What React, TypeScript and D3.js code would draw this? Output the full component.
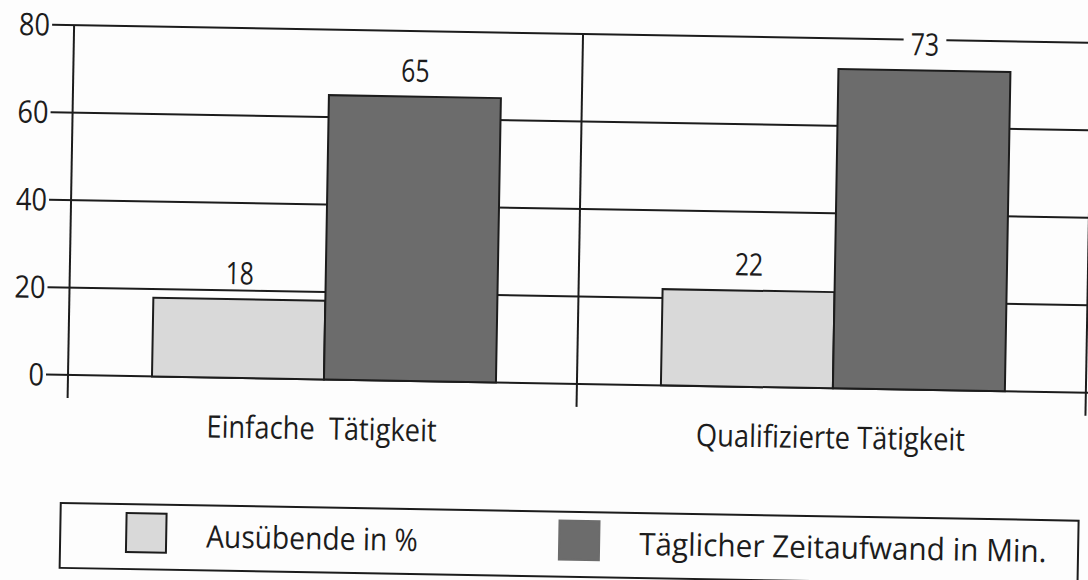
import React, { useEffect, useRef } from 'react';
import * as d3 from 'd3';

const categories = ['Einfache  Tätigkeit', 'Qualifizierte Tätigkeit'];
const seriesNames = ['Ausübende in %', 'Täglicher Zeitaufwand in Min.'];
const ausuebende = [18, 22];
const zeitaufwand = [65, 73];
const yTicks = [0, 20, 40, 60, 80];

const colors = ['#d9d9d9', '#6c6c6c'];
const ink = '#1c1c1c';
const font = "'Open Sans', 'Noto Sans', sans-serif";

type Sel = d3.Selection<SVGGElement, unknown, null, undefined>;

// the print uses a condensed face, so squeeze the glyphs horizontally
function label(parent: Sel, x: number, y: number, txt: string, anchor: string, size: number, sx: number) {
  const g = parent.append('g').attr('transform', `translate(${x},${y}) scale(${sx},1)`);
  g.append('text')
    .attr('text-anchor', anchor)
    .attr('font-family', font)
    .attr('font-size', size)
    .attr('fill', ink)
    .style('white-space', 'pre')
    .text(txt);
  return g;
}

export default function App() {
  const ref = useRef<SVGSVGElement | null>(null);

  useEffect(() => {
    const svg = d3.select(ref.current);
    svg.selectAll('*').remove();

    const width = 1088;
    const height = 580;
    svg.attr('width', width).attr('height', height);
    svg.append('rect').attr('width', width).attr('height', height).attr('fill', '#fdfdfd');

    // the scan is tilted by about a degree; origin sits on the zero line of the left axis
    const g = svg.append('g').attr('transform', 'translate(68,375) rotate(1)') as unknown as Sel;

    const y = d3.scaleLinear().domain([0, 80]).range([0, -350]);
    const x0 = d3.scaleBand<string>().domain(categories).range([0, 1018]);
    const x1 = d3.scaleBand<string>().domain(seriesNames).range([84, 428]);

    const rows = categories.map((c, i) => ({ cat: c, values: [ausuebende[i], zeitaufwand[i]] }));

    // gridlines with tick stubs
    g.selectAll('line.grid')
      .data(yTicks)
      .enter()
      .append('line')
      .attr('x1', -22)
      .attr('x2', 1060)
      .attr('y1', d => y(d))
      .attr('y2', d => y(d))
      .attr('stroke', ink)
      .attr('stroke-width', 2);

    yTicks.forEach(t => {
      label(g, -24, y(t) + 11, String(t), 'end', 31, 0.88);
    });

    // vertical separators
    const seps = categories.map(c => x0(c) as number).concat([x0.range()[1]]);
    g.selectAll('line.sep')
      .data(seps)
      .enter()
      .append('line')
      .attr('x1', d => d)
      .attr('x2', d => d)
      .attr('y1', y(80))
      .attr('y2', 23)
      .attr('stroke', ink)
      .attr('stroke-width', 2);

    rows.forEach(row => {
      const gx = x0(row.cat) as number;
      row.values.forEach((v, j) => {
        g.append('rect')
          .attr('x', gx + (x1(seriesNames[j]) as number))
          .attr('y', y(v))
          .attr('width', x1.bandwidth())
          .attr('height', y(0) - y(v))
          .attr('fill', colors[j])
          .attr('stroke', ink)
          .attr('stroke-width', 2);
      });

      row.values.forEach((v, j) => {
        const cx = gx + (x1(seriesNames[j]) as number) + x1.bandwidth() / 2;
        const lg = label(g, cx, y(v) - 15, String(v), 'middle', 31, 0.8);
        const bb = (lg.select('text').node() as SVGTextElement).getBBox();
        lg.insert('rect', 'text')
          .attr('x', bb.x - 9)
          .attr('y', bb.y + 4)
          .attr('width', bb.width + 18)
          .attr('height', bb.height - 8)
          .attr('fill', '#fdfdfd');
      });

      label(g, gx + x0.bandwidth() / 2, 60, row.cat, 'middle', 31, 0.88);
    });

    // legend
    g.append('rect')
      .attr('x', -5)
      .attr('y', 128)
      .attr('width', 1018)
      .attr('height', 65)
      .attr('fill', 'none')
      .attr('stroke', ink)
      .attr('stroke-width', 2);

    const legendX = [61, 494];
    const legendSquash = [0.91, 0.96];
    seriesNames.forEach((s, j) => {
      g.append('rect')
        .attr('x', legendX[j])
        .attr('y', 137)
        .attr('width', 40)
        .attr('height', 39)
        .attr('fill', colors[j])
        .attr('stroke', j === 0 ? ink : colors[j])
        .attr('stroke-width', 2);
      label(g, legendX[j] + 80, 170, s, 'start', 31, legendSquash[j]);
    });
  }, []);

  return <svg ref={ref} style={{ position: 'absolute', left: 0, top: 0, display: 'block' }} />;
}
